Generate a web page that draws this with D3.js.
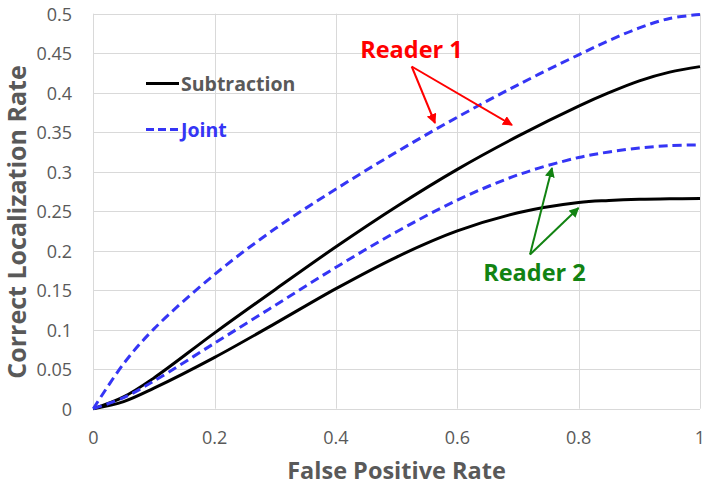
<!DOCTYPE html>
<html>
<head>
<meta charset="utf-8">
<script src="https://cdn.jsdelivr.net/npm/d3@7"></script>
<style>
  html, body { margin: 0; padding: 0; background: #fff; }
  svg { display: block; }
  text { font-family: "Open Sans", "Noto Sans", sans-serif; }
</style>
</head>
<body>
<svg id="chart" width="709" height="490"></svg>
<script>
// ---- data ----
const xTicks = [0, 0.2, 0.4, 0.6, 0.8, 1];
const xTickLabels = ["0", "0.2", "0.4", "0.6", "0.8", "1"];
const yTicks = [0, 0.05, 0.1, 0.15, 0.2, 0.25, 0.3, 0.35, 0.4, 0.45, 0.5];
const yTickLabels = ["0", "0.05", "0.1", "0.15", "0.2", "0.25", "0.3", "0.35", "0.4", "0.45", "0.5"];

const fpr = [0, 0.05, 0.1, 0.2, 0.3, 0.4, 0.5, 0.6, 0.7, 0.8, 0.85, 0.9, 0.95, 1];
const reader1Joint       = [0, 0.057, 0.101, 0.170, 0.228, 0.278, 0.325, 0.369, 0.410, 0.448, 0.466, 0.482, 0.494, 0.499];
const reader1Subtraction = [0, 0.015, 0.039, 0.096, 0.151, 0.205, 0.256, 0.303, 0.345, 0.383, 0.400, 0.415, 0.426, 0.433];
const reader2Joint       = [0, 0.014, 0.035, 0.083, 0.131, 0.179, 0.224, 0.264, 0.296, 0.318, 0.325, 0.330, 0.333, 0.334];
const reader2Subtraction = [0, 0.009, 0.026, 0.065, 0.108, 0.152, 0.192, 0.225, 0.248, 0.261, 0.2635, 0.265, 0.2657, 0.266];

const seriesNames = ["Subtraction", "Joint"];
const xTitle = "False Positive Rate";
const yTitle = "Correct Localization Rate";
const reader1Label = "Reader 1";
const reader2Label = "Reader 2";

// ---- layout ----
const svg = d3.select("#chart");
const pL = 93.3, pR = 700, pT = 13.7, pB = 408.7;
const x = d3.scaleLinear().domain([0, 1]).range([pL, pR]);
const y = d3.scaleLinear().domain([0, 0.5]).range([pB, pT]);

const grid = "#d9d9d9", tickColor = "#595959";
const blue = "#3535f5";

// gridlines
svg.append("g").selectAll("line").data(yTicks).join("line")
  .attr("x1", pL).attr("x2", pR)
  .attr("y1", d => Math.round(y(d)) + 0.5).attr("y2", d => Math.round(y(d)) + 0.5)
  .attr("stroke", grid).attr("stroke-width", 1);
svg.append("g").selectAll("line").data(xTicks).join("line")
  .attr("y1", pT).attr("y2", pB)
  .attr("x1", d => Math.round(x(d)) + 0.5).attr("x2", d => Math.round(x(d)) + 0.5)
  .attr("stroke", grid).attr("stroke-width", 1);

// tick labels
svg.append("g").selectAll("text").data(yTicks).join("text")
  .attr("x", 72).attr("y", d => y(d))
  .attr("text-anchor", "end").attr("dominant-baseline", "central")
  .attr("font-size", 18).attr("fill", tickColor)
  .text((d, i) => yTickLabels[i]);
svg.append("g").selectAll("text").data(xTicks).join("text")
  .attr("x", d => x(d)).attr("y", 437)
  .attr("text-anchor", "middle").attr("dominant-baseline", "central")
  .attr("font-size", 18).attr("fill", tickColor)
  .text((d, i) => xTickLabels[i]);

// axis titles
svg.append("text").attr("x", 396.5).attr("y", 479)
  .attr("text-anchor", "middle").attr("font-size", 23.5).attr("font-weight", "bold")
  .attr("fill", tickColor).text(xTitle);
svg.append("text")
  .attr("transform", `translate(26,222) rotate(-90)`)
  .attr("text-anchor", "middle").attr("font-size", 25).attr("font-weight", "bold")
  .attr("fill", tickColor).text(yTitle);

// lines
const line = d3.line().x((d, i) => x(fpr[i])).y(d => y(d)).curve(d3.curveCatmullRom.alpha(0.5));
const lines = [
  { v: reader1Subtraction, dash: null, color: "#000" },
  { v: reader2Subtraction, dash: null, color: "#000" },
  { v: reader1Joint, dash: "9,5", color: blue },
  { v: reader2Joint, dash: "9,5", color: blue }
];
lines.forEach(l => {
  svg.append("path").attr("d", line(l.v)).attr("fill", "none")
    .attr("stroke", l.color).attr("stroke-width", 3)
    .attr("stroke-dasharray", l.dash);
});

// legend
svg.append("line").attr("x1", 146).attr("x2", 179).attr("y1", 83.5).attr("y2", 83.5)
  .attr("stroke", "#000").attr("stroke-width", 3);
svg.append("text").attr("x", 181).attr("y", 83.5).attr("dominant-baseline", "central")
  .attr("font-size", 19.5).attr("font-weight", "bold").attr("fill", tickColor).text(seriesNames[0]);
svg.append("line").attr("x1", 146).attr("x2", 178).attr("y1", 129.5).attr("y2", 129.5)
  .attr("stroke", blue).attr("stroke-width", 3).attr("stroke-dasharray", "8,4");
svg.append("text").attr("x", 181).attr("y", 129.5).attr("dominant-baseline", "central")
  .attr("font-size", 19.5).attr("font-weight", "bold").attr("fill", blue).text(seriesNames[1]);

// annotations
const defs = svg.append("defs");
function marker(id, color) {
  defs.append("marker").attr("id", id).attr("viewBox", "0 0 10 10")
    .attr("refX", 9).attr("refY", 5).attr("markerWidth", 5).attr("markerHeight", 5)
    .attr("orient", "auto").attr("markerUnits", "strokeWidth")
    .append("path").attr("d", "M0,0 L10,5 L0,10 z").attr("fill", color);
}
const red = "#ff0000", green = "#128312";
marker("arrRed", red); marker("arrGreen", green);

svg.append("text").attr("x", 411.5).attr("y", 58).attr("text-anchor", "middle")
  .attr("font-size", 23.5).attr("font-weight", "bold").attr("fill", red).text(reader1Label);
[[435, 123], [512, 125]].forEach(p => {
  svg.append("line").attr("x1", 411.7).attr("y1", 66.5).attr("x2", p[0]).attr("y2", p[1])
    .attr("stroke", red).attr("stroke-width", 2).attr("marker-end", "url(#arrRed)");
});

svg.append("text").attr("x", 534.5).attr("y", 281).attr("text-anchor", "middle")
  .attr("font-size", 23.5).attr("font-weight", "bold").attr("fill", green).text(reader2Label);
[[552, 168], [578.5, 208]].forEach(p => {
  svg.append("line").attr("x1", 530).attr("y1", 254.5).attr("x2", p[0]).attr("y2", p[1])
    .attr("stroke", green).attr("stroke-width", 2).attr("marker-end", "url(#arrGreen)");
});
</script>
</body>
</html>
